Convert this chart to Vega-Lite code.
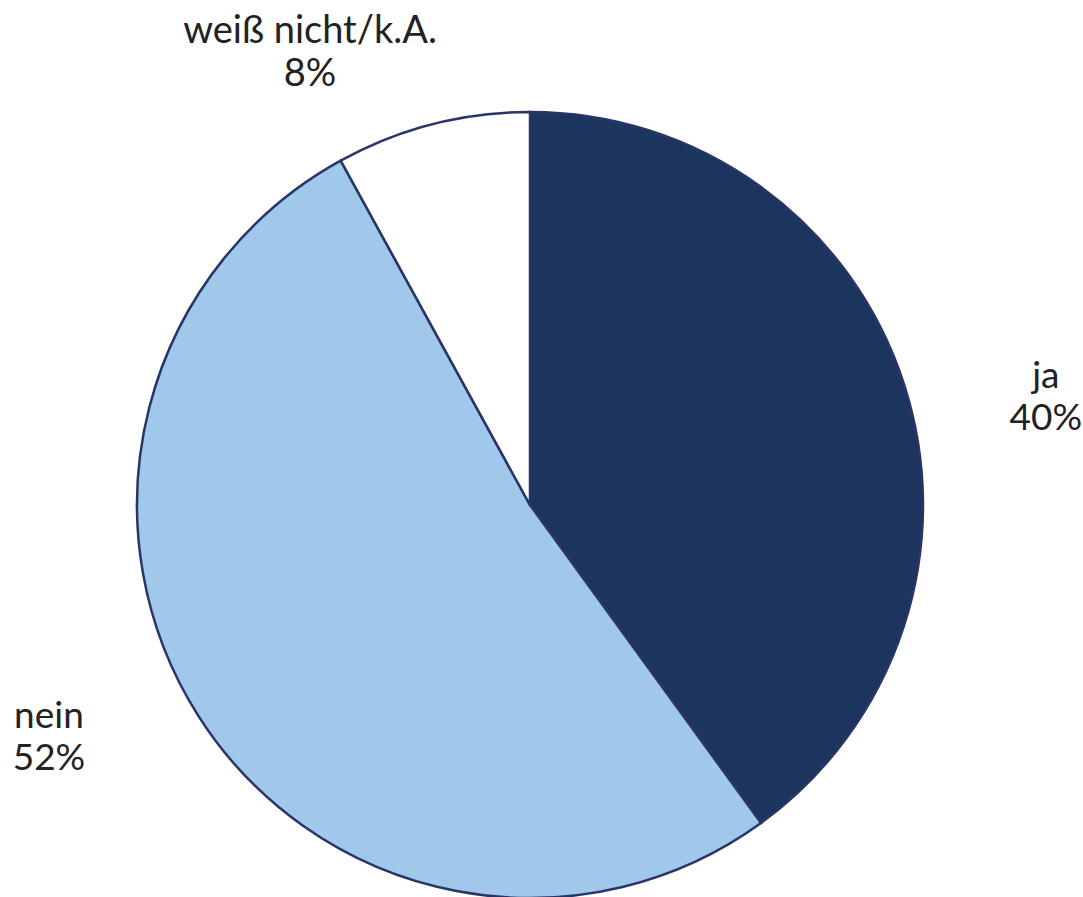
{
  "$schema": "https://vega.github.io/schema/vega-lite/v6.json",
  "autosize": {"type": "none"},
  "width": 1060,
  "height": 784,
  "padding": {"left": 0, "right": 23, "top": 113, "bottom": 0},
  "background": "white",
  "view": {"stroke": null},
  "data": {
    "values": [
      {"category": "ja", "value": 40, "order": 1, "label": "ja\n40%"},
      {"category": "nein", "value": 52, "order": 2, "label": "nein\n52%"},
      {"category": "weiß nicht/k.A.", "value": 8, "order": 3, "label": "weiß nicht/k.A.\n8%"}
    ]
  },
  "transform": [
    {"stack": "value", "groupby": [], "sort": [{"field": "order", "order": "ascending"}], "as": ["v0", "v1"]}
  ],
  "layer": [
    {
      "mark": {"type": "arc", "outerRadius": 393, "stroke": "#2b3468", "strokeWidth": 2.5},
      "encoding": {
        "theta": {"field": "v0", "type": "quantitative", "stack": null, "scale": {"domain": [0, 100]}},
        "theta2": {"field": "v1"},
        "color": {
          "field": "category",
          "type": "nominal",
          "scale": {"domain": ["ja", "nein", "weiß nicht/k.A."], "range": ["#1b355e", "#9fc8ea", "#ffffff"]},
          "legend": null
        }
      }
    },
    {
      "transform": [{"filter": "datum.category == 'ja'"}],
      "mark": {"type": "text", "radius": 527, "thetaOffset": 1.365, "dy": -20, "fontSize": 37, "font": "Lato", "color": "#222222", "lineBreak": "\n", "lineHeight": 42, "align": "center", "baseline": "middle"},
      "encoding": {
        "theta": {"field": "v0", "type": "quantitative", "stack": null, "scale": {"domain": [0, 100]}},
        "text": {"field": "label"}
      }
    },
    {
      "transform": [{"filter": "datum.category == 'nein'"}],
      "mark": {"type": "text", "radius": 534, "thetaOffset": 1.75, "dy": -20, "fontSize": 37, "font": "Lato", "color": "#222222", "lineBreak": "\n", "lineHeight": 42, "align": "center", "baseline": "middle"},
      "encoding": {
        "theta": {"field": "v0", "type": "quantitative", "stack": null, "scale": {"domain": [0, 100]}},
        "text": {"field": "label"}
      }
    },
    {
      "transform": [{"filter": "datum.category == 'weiß nicht/k.A.'"}],
      "mark": {"type": "text", "radius": 504, "thetaOffset": 0.051, "dy": -20, "fontSize": 38, "font": "Lato", "color": "#222222", "lineBreak": "\n", "lineHeight": 43, "align": "center", "baseline": "middle"},
      "encoding": {
        "theta": {"field": "v0", "type": "quantitative", "stack": null, "scale": {"domain": [0, 100]}},
        "text": {"field": "label"}
      }
    }
  ]
}
